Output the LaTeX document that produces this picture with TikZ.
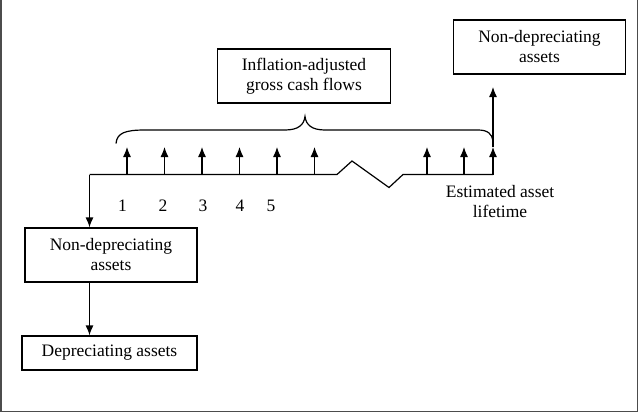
\documentclass[tikz,border=0pt]{standalone}
\usepackage{fontspec}
\setmainfont{Liberation Serif}
\usetikzlibrary{arrows.meta}
\begin{document}
\begin{tikzpicture}[x=1pt,y=-1pt,
  line width=1.2pt,
  box/.style={draw, line width=1.2pt, inner sep=0pt, align=center, font=\fontsize{17.5}{20}\selectfont},
  lbl/.style={inner sep=0pt, align=center, font=\fontsize{17.5}{20}\selectfont},
  arr/.style={-{Latex[length=10pt,width=8pt]}},
  frame/.style={draw=black!70, line width=1.5pt}]
\useasboundingbox (0,0) rectangle (640,415);
% frame
\draw[frame] (1,-5) -- (1,411.5) -- (637.5,411.5) -- (637.5,-5);
% boxes
\node[box, minimum width=173pt, minimum height=54pt] (infl) at (304,76) {Inflation-adjusted\\gross cash flows};
\node[box, minimum width=172pt, minimum height=54pt] (ndtop) at (539.5,47) {Non-depreciating\\assets};
\node[box, minimum width=172pt, minimum height=54pt] (ndleft) at (111,255) {Non-depreciating\\assets};
\node[box, minimum width=175pt, minimum height=34pt] (dep) at (109.5,353) {Depreciating assets};
% timeline
\coordinate (t0) at (89.5,174.5);
\coordinate (tend) at (493,174.5);
\draw (t0) -- (337,174.5) -- (352,161) -- (389,187.5) -- (403,174.5) -- (tend);
% short arrows
\foreach \i/\x in {1/127,2/164.5,3/202,4/239.5,5/277,6/314.5,7/427,8/464} {
  \coordinate (b\i) at (\x,174.5);
  \coordinate (e\i) at (\x,147);
  \draw[arr] (b\i) -- (e\i);
}
\coordinate (e9) at (493,147);
\coordinate (top) at (493,87);
\draw[arr] (tend) -- (e9);
\draw[arr] (e9) -- (top);
% brace
\draw (116,143.5) .. controls (117,133) and (125,130) .. (145,130)
  -- (285,130) .. controls (298,130) and (304,125) .. (305,116.5)
  .. controls (306,125) and (312,130) .. (325,130)
  -- (478,130) .. controls (488,130) and (492,134) .. (493,141);
% labels
\foreach \n/\x in {1/122.5,2/163,3/203,4/240,5/271} {
  \node[lbl] (n\n) at (\x,206) {\n};
}
\node[lbl] (life) at (500,202) {Estimated asset\\lifetime};
% left arrows
\draw[arr] (t0) -- (ndleft.north -| t0);
\draw[arr] (ndleft.south -| t0) -- (dep.north -| t0);
\end{tikzpicture}
\end{document}
